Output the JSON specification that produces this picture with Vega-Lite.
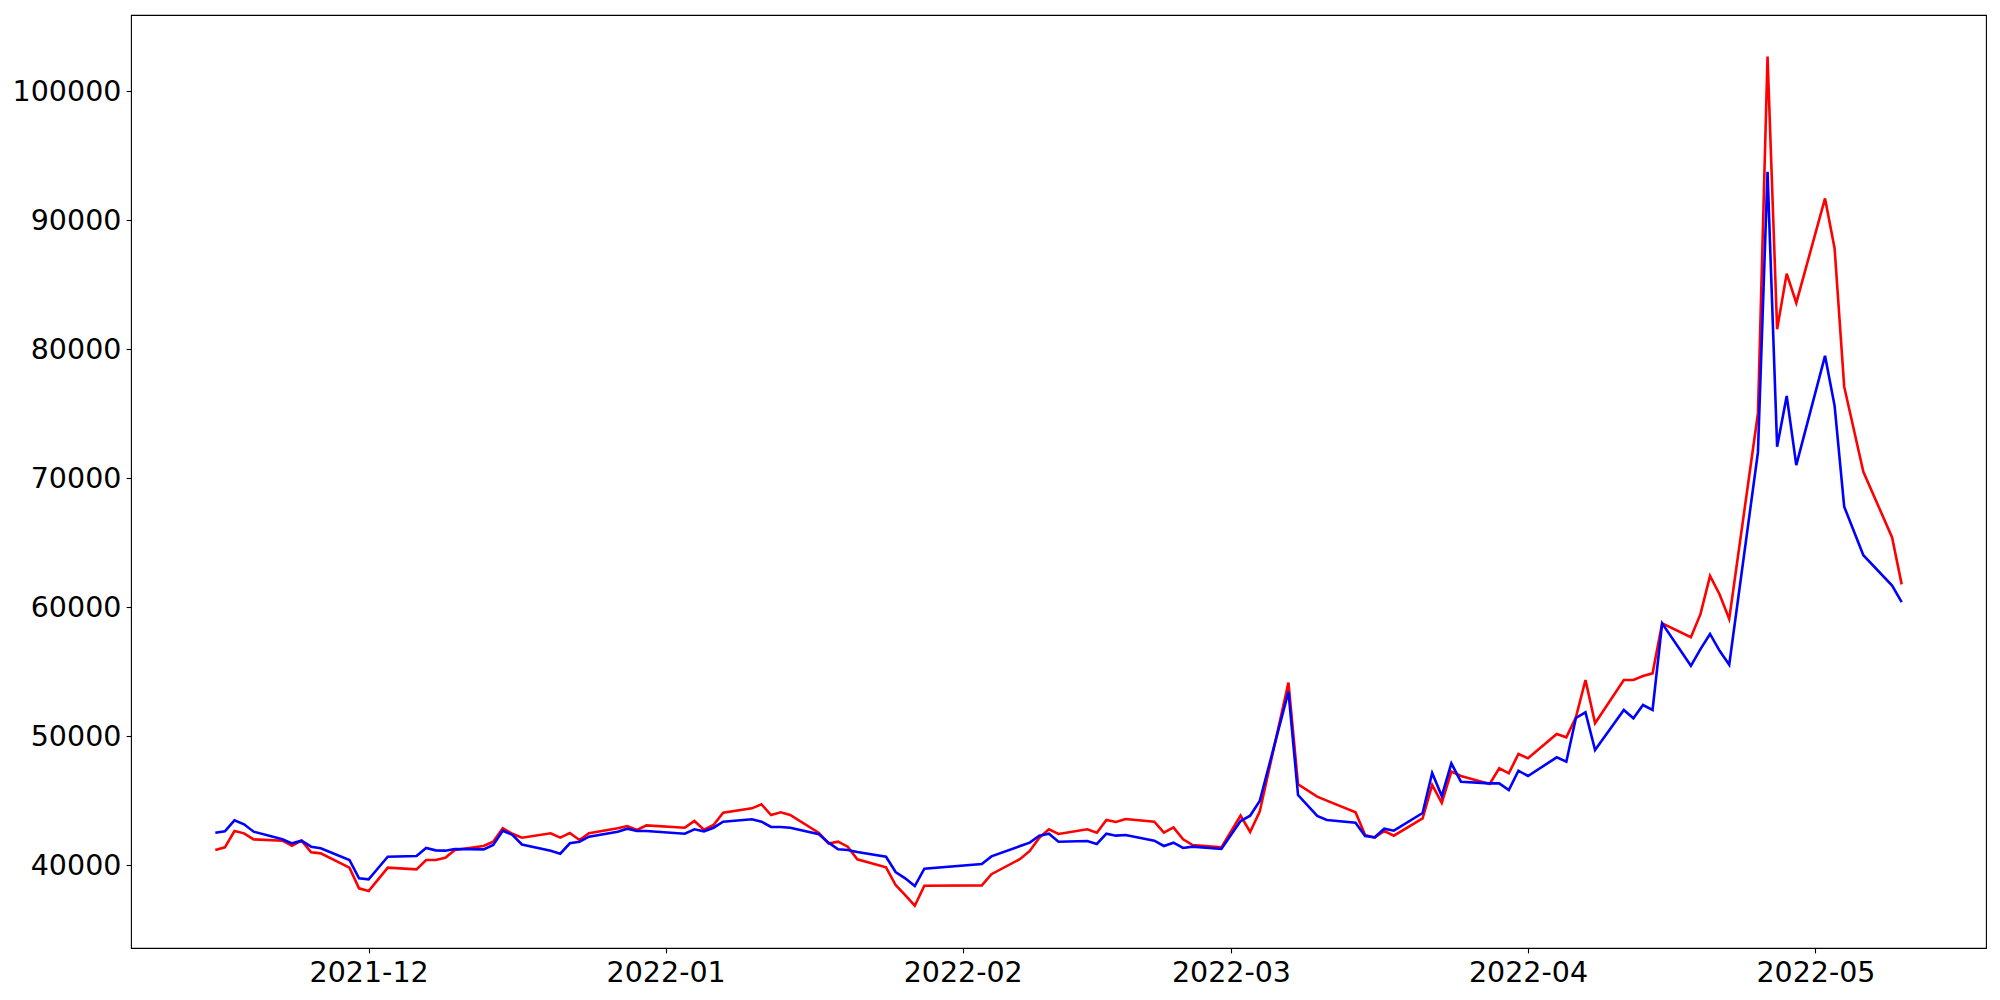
{
  "$schema": "https://vega.github.io/schema/vega-lite/v6.json",
  "width": 1855,
  "height": 933,
  "autosize": "none",
  "padding": {"left": 131, "top": 15, "right": 14, "bottom": 52},
  "background": "white",
  "config": {
    "view": {"stroke": "black", "strokeWidth": 1.1},
    "axis": {
      "domain": false,
      "grid": false,
      "ticks": true,
      "tickColor": "black",
      "tickWidth": 1.1,
      "tickSize": 4.9,
      "labelFont": "DejaVu Sans",
      "labelFontSize": 28.5,
      "labelColor": "black",
      "labelPadding": 5.2,
      "labelFlush": false,
      "labelOverlap": false,
      "labelBound": false,
      "title": null
    }
  },
  "data": {
    "values": [
      {"date": "2021-11-15", "a": 41194, "b": 42537},
      {"date": "2021-11-16", "a": 41400, "b": 42640},
      {"date": "2021-11-17", "a": 42666, "b": 43493},
      {"date": "2021-11-18", "a": 42485, "b": 43183},
      {"date": "2021-11-19", "a": 42020, "b": 42614},
      {"date": "2021-11-22", "a": 41917, "b": 42020},
      {"date": "2021-11-23", "a": 41529, "b": 41710},
      {"date": "2021-11-24", "a": 41917, "b": 41917},
      {"date": "2021-11-25", "a": 41013, "b": 41452},
      {"date": "2021-11-26", "a": 40935, "b": 41323},
      {"date": "2021-11-29", "a": 39824, "b": 40419},
      {"date": "2021-11-30", "a": 38223, "b": 38998},
      {"date": "2021-12-01", "a": 38016, "b": 38920},
      {"date": "2021-12-02", "a": 38920, "b": 39798},
      {"date": "2021-12-03", "a": 39824, "b": 40677},
      {"date": "2021-12-06", "a": 39695, "b": 40729},
      {"date": "2021-12-07", "a": 40419, "b": 41349},
      {"date": "2021-12-08", "a": 40419, "b": 41168},
      {"date": "2021-12-09", "a": 40599, "b": 41142},
      {"date": "2021-12-10", "a": 41194, "b": 41271},
      {"date": "2021-12-13", "a": 41504, "b": 41245},
      {"date": "2021-12-14", "a": 41839, "b": 41581},
      {"date": "2021-12-15", "a": 42874, "b": 42691},
      {"date": "2021-12-16", "a": 42450, "b": 42370},
      {"date": "2021-12-17", "a": 42150, "b": 41620},
      {"date": "2021-12-20", "a": 42488, "b": 41141},
      {"date": "2021-12-21", "a": 42150, "b": 40908},
      {"date": "2021-12-22", "a": 42511, "b": 41713},
      {"date": "2021-12-23", "a": 41969, "b": 41837},
      {"date": "2021-12-24", "a": 42488, "b": 42224},
      {"date": "2021-12-27", "a": 42875, "b": 42612},
      {"date": "2021-12-28", "a": 43054, "b": 42844},
      {"date": "2021-12-29", "a": 42744, "b": 42666},
      {"date": "2021-12-30", "a": 43106, "b": 42666},
      {"date": "2022-01-03", "a": 42924, "b": 42457},
      {"date": "2022-01-04", "a": 43441, "b": 42796},
      {"date": "2022-01-05", "a": 42770, "b": 42643},
      {"date": "2022-01-06", "a": 43131, "b": 42922},
      {"date": "2022-01-07", "a": 44084, "b": 43387},
      {"date": "2022-01-10", "a": 44423, "b": 43573},
      {"date": "2022-01-11", "a": 44733, "b": 43387},
      {"date": "2022-01-12", "a": 43906, "b": 42976},
      {"date": "2022-01-13", "a": 44114, "b": 42976},
      {"date": "2022-01-14", "a": 43906, "b": 42922},
      {"date": "2022-01-17", "a": 42510, "b": 42420},
      {"date": "2022-01-18", "a": 41690, "b": 41762},
      {"date": "2022-01-19", "a": 41837, "b": 41246},
      {"date": "2022-01-20", "a": 41449, "b": 41194},
      {"date": "2022-01-21", "a": 40473, "b": 41039},
      {"date": "2022-01-24", "a": 39853, "b": 40674},
      {"date": "2022-01-25", "a": 38481, "b": 39488},
      {"date": "2022-01-26", "a": 37706, "b": 39000},
      {"date": "2022-01-27", "a": 36877, "b": 38404},
      {"date": "2022-01-28", "a": 38427, "b": 39744},
      {"date": "2022-02-03", "a": 38450, "b": 40108},
      {"date": "2022-02-04", "a": 39320, "b": 40700},
      {"date": "2022-02-07", "a": 40500, "b": 41504},
      {"date": "2022-02-08", "a": 41120, "b": 41762},
      {"date": "2022-02-09", "a": 42150, "b": 42305},
      {"date": "2022-02-10", "a": 42796, "b": 42457},
      {"date": "2022-02-11", "a": 42434, "b": 41837},
      {"date": "2022-02-14", "a": 42796, "b": 41891},
      {"date": "2022-02-15", "a": 42534, "b": 41659},
      {"date": "2022-02-16", "a": 43519, "b": 42457},
      {"date": "2022-02-17", "a": 43364, "b": 42305},
      {"date": "2022-02-18", "a": 43600, "b": 42356},
      {"date": "2022-02-21", "a": 43387, "b": 41917},
      {"date": "2022-02-22", "a": 42534, "b": 41504},
      {"date": "2022-02-23", "a": 42950, "b": 41762},
      {"date": "2022-02-24", "a": 42020, "b": 41349},
      {"date": "2022-02-25", "a": 41581, "b": 41452},
      {"date": "2022-02-28", "a": 41401, "b": 41271},
      {"date": "2022-03-02", "a": 43855, "b": 43441},
      {"date": "2022-03-03", "a": 42589, "b": 43855},
      {"date": "2022-03-04", "a": 44165, "b": 44991},
      {"date": "2022-03-07", "a": 54162, "b": 53462},
      {"date": "2022-03-08", "a": 46283, "b": 45456},
      {"date": "2022-03-10", "a": 45327, "b": 43829},
      {"date": "2022-03-11", "a": 45017, "b": 43518},
      {"date": "2022-03-14", "a": 44114, "b": 43309},
      {"date": "2022-03-15", "a": 42356, "b": 42279},
      {"date": "2022-03-16", "a": 42150, "b": 42178},
      {"date": "2022-03-17", "a": 42666, "b": 42844},
      {"date": "2022-03-18", "a": 42305, "b": 42689},
      {"date": "2022-03-21", "a": 43650, "b": 44060},
      {"date": "2022-03-22", "a": 46231, "b": 47160},
      {"date": "2022-03-23", "a": 44840, "b": 45379},
      {"date": "2022-03-24", "a": 47265, "b": 47910},
      {"date": "2022-03-25", "a": 46929, "b": 46488},
      {"date": "2022-03-28", "a": 46309, "b": 46360},
      {"date": "2022-03-29", "a": 47523, "b": 46360},
      {"date": "2022-03-30", "a": 47134, "b": 45844},
      {"date": "2022-03-31", "a": 48634, "b": 47341},
      {"date": "2022-04-01", "a": 48298, "b": 46929},
      {"date": "2022-04-04", "a": 50184, "b": 48375},
      {"date": "2022-04-05", "a": 49924, "b": 48037},
      {"date": "2022-04-06", "a": 51474, "b": 51424},
      {"date": "2022-04-07", "a": 54369, "b": 51862},
      {"date": "2022-04-08", "a": 51010, "b": 48944},
      {"date": "2022-04-11", "a": 54369, "b": 52044},
      {"date": "2022-04-12", "a": 54369, "b": 51400},
      {"date": "2022-04-13", "a": 54679, "b": 52431},
      {"date": "2022-04-14", "a": 54884, "b": 52044},
      {"date": "2022-04-15", "a": 58760, "b": 58760},
      {"date": "2022-04-18", "a": 57690, "b": 55470},
      {"date": "2022-04-19", "a": 59470, "b": 56760},
      {"date": "2022-04-20", "a": 62429, "b": 57934},
      {"date": "2022-04-21", "a": 61000, "b": 56630},
      {"date": "2022-04-22", "a": 59100, "b": 55550},
      {"date": "2022-04-25", "a": 75035, "b": 72023},
      {"date": "2022-04-26", "a": 102674, "b": 93750},
      {"date": "2022-04-27", "a": 81548, "b": 72449},
      {"date": "2022-04-28", "a": 85857, "b": 76384},
      {"date": "2022-04-29", "a": 83587, "b": 71016},
      {"date": "2022-05-02", "a": 91685, "b": 79486},
      {"date": "2022-05-03", "a": 87810, "b": 75611},
      {"date": "2022-05-04", "a": 77099, "b": 67799},
      {"date": "2022-05-06", "a": 70496, "b": 64041},
      {"date": "2022-05-09", "a": 65420, "b": 61685},
      {"date": "2022-05-10", "a": 61778, "b": 60398}
    ]
  },
  "encoding": {
    "x": {
      "field": "date",
      "type": "temporal",
      "scale": {
        "type": "utc",
        "domain": [
          {"year": 2021, "month": 11, "date": 6, "hours": 4, "minutes": 48, "utc": true},
          {"year": 2022, "month": 5, "date": 18, "hours": 19, "minutes": 12, "utc": true}
        ],
        "nice": false
      },
      "axis": {
        "format": "%Y-%m",
        "values": [
          {"year": 2021, "month": 12, "date": 1, "utc": true},
          {"year": 2022, "month": 1, "date": 1, "utc": true},
          {"year": 2022, "month": 2, "date": 1, "utc": true},
          {"year": 2022, "month": 3, "date": 1, "utc": true},
          {"year": 2022, "month": 4, "date": 1, "utc": true},
          {"year": 2022, "month": 5, "date": 1, "utc": true}
        ]
      }
    }
  },
  "layer": [
    {
      "mark": {"type": "line", "color": "#ff0000", "strokeWidth": 2.6, "clip": true},
      "encoding": {
        "y": {
          "field": "a",
          "type": "quantitative",
          "scale": {"domain": [33600, 105900], "nice": false, "zero": false},
          "axis": {"values": [40000, 50000, 60000, 70000, 80000, 90000, 100000], "format": "d"}
        }
      }
    },
    {
      "mark": {"type": "line", "color": "#0000ff", "strokeWidth": 2.6, "clip": true},
      "encoding": {
        "y": {"field": "b", "type": "quantitative"}
      }
    }
  ]
}
